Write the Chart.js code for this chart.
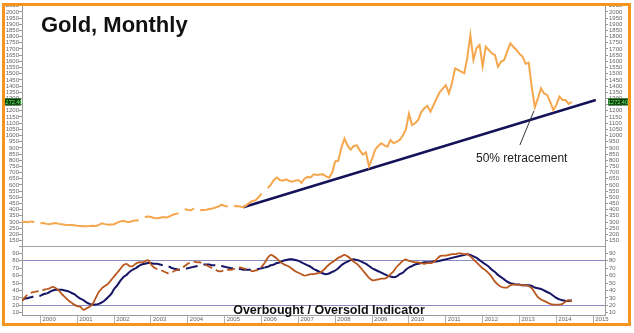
<!DOCTYPE html>
<html>
<head>
<meta charset="utf-8">
<script src="https://cdn.jsdelivr.net/npm/chart.js@4.4.1/dist/chart.umd.min.js"></script>
<style>
  body { margin: 0; background: #fff; width: 634px; height: 333px; overflow: hidden; position: relative; }
  #goldCvs { position: absolute; left: 0; top: -7px; }
  #oscCvs { position: absolute; left: 0; top: 236px; }
  #frame { position: absolute; left: 2px; top: 3px; width: 623px; height: 317px; border: 3px solid #f7941d; pointer-events: none; }
</style>
</head>
<body>
<canvas id="goldCvs" width="634" height="263"></canvas>
<canvas id="oscCvs" width="634" height="92"></canvas>
<div id="frame"></div>
<script>
// monthly series, first value = July 1999
const startYear = 1999, startMonth = 7;

// gold, monthly close (null = no quote)
const goldClose = [
  300, 302, 298, 305, 300, null,
  290, 292, 285, 283, 288, 292, 285, 282, 278, 275, 275, 274,
  270, 268, 265, 265, 267, 270, 268, 275, 290, 283, 278, 280,
  282, 295, 305, 310, 302, 300, 308, 312, 315, null, 340, 345,
  340, 332, 330, 335, 340, 336, 345, 358, 365, 370, null, 405,
  398, 395, 410, null, 395, 398, 400, 405, 410, 418, 425, 440,
  430, 425, null, 428, 430, 425, 420, 435, 455, 470, 475, 500,
  530, null, 575, 600, 640, 660, 640, 634, 645, 632, 626, 635,
  640, 618, 650, 665, 660, 686, 680, 684, 686, 670, 658, 700,
  790, 796, 900, 975, 920, 885, 915, 920, 880, 845, 865, 750,
  810, 885, 915, 937, 920, 910, 964, 937, 950, 964, 1000, 1050,
  1175, 1085, 1099, 1126, 1190, 1220, 1240, 1193, 1245, 1300, 1350, 1380,
  1408, 1341, 1422, 1543, 1530, 1516, 1503, 1628, 1813, 1611, 1705, 1732,
  1560, 1718, 1692, 1665, 1651, 1557, 1597, 1611, 1680, 1746, 1718, 1692,
  1660, 1638, 1580, 1590, 1390, 1230, 1300, 1382, 1340, 1328, 1273, 1206,
  1247, 1314, 1287, 1287, 1255, 1272.40
];

// overbought / oversold oscillator: fast and slow line
const fastLine = [
  26, 31, 35, 37, 38, 39, 40, 41, 42, 43, 45, 43,
  40, 35, 31, 27, 24, 21, 19, 18, 14, 16, 18, 22,
  30, 38, 43, 46, 49, 54, 59, 64, 69, 74, 76, 73,
  73, 76, 78, 78, 79, 81, 75, 71, 69, 68, 66, 64,
  63, 65, 67, 68, 70, 73, 76, 78, 79, 78, 78, 76,
  74, 72, 70, 68, 66, 66, 68, 68, 68, 69, 70, 71,
  70, 69, 68, 66, 67, 68, 72, 77, 84, 88, 86, 83,
  79, 76, 74, 72, 69, 66, 64, 62, 60, 61, 62, 62,
  63, 64, 67, 71, 75, 78, 81, 84, 86, 88, 86, 83,
  79, 76, 72, 67, 62, 57, 54, 54, 55, 56, 56, 58,
  62, 66, 72, 76, 80, 82, 80, 79, 78, 78, 77, 76,
  77, 77, 78, 82, 86, 87, 87, 88, 89, 89, 90, 90,
  89, 89, 86, 82, 78, 74, 70, 67, 63, 58, 52, 48,
  45, 44, 44, 47, 48, 48, 48, 47, 47, 46, 43, 37,
  31, 28, 26, 24, 22, 21, 21, 21, 22, 25, 27, 25
];
const slowLine = [
  27, 29, 30, 31, 32, 33, 33, 35, 36, 38, 40, 41,
  41, 41, 40, 39, 37, 35, 32, 29, 27, 24, 22, 21,
  21, 22, 24, 27, 31, 35, 42, 47, 53, 58, 61, 65,
  68, 70, 73, 75, 76, 77, 77, 76, 76, 75, 74, 73,
  72, 70, 69, 68, 68, 69, 70, 71, 72, 73, 74, 75,
  75, 75, 74, 74, 73, 73, 72, 71, 70, 70, 69, 69,
  68, 68, 68, 68, 68, 69, 70, 71, 72, 74, 75, 77,
  78, 80, 81, 82, 82, 81, 80, 78, 76, 74, 72, 69,
  67, 65, 63, 62, 63, 65, 67, 70, 74, 77, 79, 81,
  82, 81, 80, 78, 76, 73, 70, 68, 66, 64, 62, 60,
  59, 58, 59, 62, 64, 68, 71, 73, 75, 76, 77, 78,
  78, 78, 79, 79, 80, 81, 82, 83, 84, 85, 86, 87,
  88, 89, 88, 86, 84, 81, 78, 75, 72, 68, 65, 61,
  58, 55, 52, 50, 49, 48, 48, 47, 47, 47, 46, 44,
  43, 42, 40, 38, 36, 33, 30, 28, 27, 26, 26, 27
];

// support line drawn under the 2005-2014 advance
const trendDates = [2005.5, 2015.07];
const trendPrices = [419, 1287];

const priceTicks = [150, 200, 250, 300, 350, 400, 450, 500, 550, 600, 650, 700, 750, 800,
  850, 900, 950, 1000, 1050, 1100, 1150, 1200, 1250, 1300, 1350, 1400, 1450, 1500, 1550,
  1600, 1650, 1700, 1750, 1800, 1850, 1900, 1950, 2000, 2050];
const oscTicks = [10, 20, 30, 40, 50, 60, 70, 80, 90];
const yearTicks = [2000, 2001, 2002, 2003, 2004, 2005, 2006, 2007, 2008, 2009, 2010,
  2011, 2012, 2013, 2014, 2015];

const monthX = i => startYear + (startMonth - 1 + i) / 12;
const toPoints = arr => arr.map((v, i) => ({ x: monthX(i), y: v }));
const lastPrice = goldClose[goldClose.length - 1];

const xRange = { min: 1999.5, max: 2015.32 };
const tickFont = { family: 'Liberation Sans, Arial, sans-serif', size: 6, lineHeight: 1 };
const axisGray = '#9a9a9a';
const labelGray = '#666';
const plain = v => String(v);

function fixedTicks(list) {
  return scale => { scale.ticks = list.map(v => ({ value: v })); };
}

// price label boxes on both axes
function priceBox(ctx, x, y, w, text) {
  ctx.save();
  ctx.fillStyle = '#0a3a0a';
  ctx.fillRect(x, y - 3.5, w, 7);
  ctx.strokeStyle = '#3c8c3c';
  ctx.lineWidth = 0.6;
  ctx.strokeRect(x + 0.3, y - 3.2, w - 0.6, 6.4);
  ctx.fillStyle = '#6dff6d';
  ctx.font = '5.5px Liberation Sans, Arial, sans-serif';
  ctx.textAlign = 'center';
  ctx.textBaseline = 'middle';
  ctx.fillText(text, x + w / 2, y + 0.3);
  ctx.restore();
}

const goldNotes = {
  id: 'goldNotes',
  afterDraw(chart) {
    const { ctx, chartArea, scales } = chart;
    const sx = scales.x, sy = scales.y;
    ctx.save();
    // title
    ctx.fillStyle = '#111';
    ctx.font = 'bold 22px Liberation Sans, Arial, sans-serif';
    ctx.textBaseline = 'alphabetic';
    ctx.fillText('Gold, Monthly', chartArea.left + 19, chartArea.top + 29);
    // pointer to the 2013 low
    ctx.strokeStyle = '#333';
    ctx.lineWidth = 1;
    ctx.beginPath();
    ctx.moveTo(sx.getPixelForValue(2013.01), sy.getPixelForValue(923));
    ctx.lineTo(sx.getPixelForValue(2013.39), sy.getPixelForValue(1198));
    ctx.stroke();
    ctx.fillStyle = '#222';
    ctx.font = '12px Liberation Sans, Arial, sans-serif';
    ctx.fillText('50% retracement', sx.getPixelForValue(2011.82), sy.getPixelForValue(786));
    ctx.restore();
    const py = sy.getPixelForValue(lastPrice);
    const label = lastPrice.toFixed(2);
    priceBox(ctx, 4, py, 17, label);
    priceBox(ctx, chartArea.right + 3, py, 20, label);
  }
};

new Chart(document.getElementById('goldCvs'), {
  type: 'line',
  data: {
    datasets: [
      {
        data: toPoints(goldClose),
        borderColor: '#f6a74e',
        borderWidth: 2,
        pointRadius: 0,
        spanGaps: false
      },
      {
        data: trendDates.map((d, k) => ({ x: d, y: trendPrices[k] })),
        borderColor: '#15125a',
        borderWidth: 2.5,
        pointRadius: 0
      }
    ]
  },
  options: {
    responsive: false,
    animation: false,
    layout: { padding: { top: 10, bottom: 10, left: 0, right: 0 } },
    plugins: { legend: { display: false }, tooltip: { enabled: false } },
    scales: {
      x: { type: 'linear', display: false, ...xRange },
      y: {
        position: 'left', min: 106, max: 2072,
        afterBuildTicks: fixedTicks(priceTicks),
        afterFit: s => { s.width = 22; },
        grid: { drawOnChartArea: false, tickLength: 3, color: axisGray },
        border: { color: axisGray },
        ticks: { font: tickFont, color: labelGray, padding: 0, autoSkip: false, callback: plain }
      },
      yR: {
        position: 'right', min: 106, max: 2072,
        afterBuildTicks: fixedTicks(priceTicks),
        afterFit: s => { s.width = 29; },
        grid: { drawOnChartArea: false, tickLength: 3, color: axisGray },
        border: { color: axisGray },
        ticks: { font: tickFont, color: labelGray, padding: 1, autoSkip: false, callback: plain }
      }
    }
  },
  plugins: [goldNotes]
});

// early stretch of the oscillator is drawn broken
const dashFor = pattern => ctx => {
  const x = ctx.p0.parsed.x;
  return (x < 2000.1 || (x > 2002.92 && x < 2006.05)) ? pattern : undefined;
};

const oscLines = { 100: '#a3a3a3', 80: '#8d8dc4', 20: '#8d8dc4' };

const oscNotes = {
  id: 'oscNotes',
  afterDraw(chart) {
    const { ctx, chartArea } = chart;
    ctx.save();
    ctx.fillStyle = '#111';
    ctx.font = 'bold 12.5px Liberation Sans, Arial, sans-serif';
    ctx.textAlign = 'center';
    ctx.textBaseline = 'alphabetic';
    ctx.fillText('Overbought / Oversold Indicator', chartArea.left + 307, chartArea.bottom - 1);
    ctx.restore();
  }
};

new Chart(document.getElementById('oscCvs'), {
  type: 'line',
  data: {
    datasets: [
      {
        data: toPoints(fastLine),
        borderColor: '#b9571e',
        borderWidth: 1.8,
        tension: 0.35,
        pointRadius: 0,
        segment: { borderDash: dashFor([8, 4]) }
      },
      {
        data: toPoints(slowLine),
        borderColor: '#161466',
        borderWidth: 2,
        tension: 0.35,
        pointRadius: 0,
        segment: { borderDash: dashFor([12, 6]) }
      }
    ]
  },
  options: {
    responsive: false,
    animation: false,
    layout: { padding: { top: 10, bottom: 0, left: 0, right: 0 } },
    plugins: { legend: { display: false }, tooltip: { enabled: false } },
    scales: {
      x: {
        type: 'linear', ...xRange,
        afterBuildTicks: fixedTicks(yearTicks),
        afterFit: s => { s.height = 13; },
        grid: { drawOnChartArea: false, tickLength: 9, color: '#b0b0b0' },
        border: { color: axisGray },
        ticks: {
          font: tickFont, color: labelGray, align: 'start', labelOffset: 2,
          padding: -8, maxRotation: 0, autoSkip: false, callback: plain
        }
      },
      y: {
        position: 'left', min: 7, max: 100,
        afterBuildTicks: fixedTicks([...oscTicks, 100]),
        afterFit: s => { s.width = 22; },
        grid: {
          color: c => oscLines[c.tick.value] || 'transparent',
          tickColor: axisGray, tickLength: 3
        },
        border: { color: axisGray },
        ticks: { font: tickFont, color: labelGray, padding: 0, autoSkip: false,
          callback: v => (v === 100 ? '' : String(v)) }
      },
      yR: {
        position: 'right', min: 7, max: 100,
        afterBuildTicks: fixedTicks(oscTicks),
        afterFit: s => { s.width = 29; },
        grid: { drawOnChartArea: false, tickLength: 3, color: axisGray },
        border: { color: axisGray },
        ticks: { font: tickFont, color: labelGray, padding: 1, autoSkip: false, callback: plain }
      }
    }
  },
  plugins: [oscNotes]
});
</script>
</body>
</html>
